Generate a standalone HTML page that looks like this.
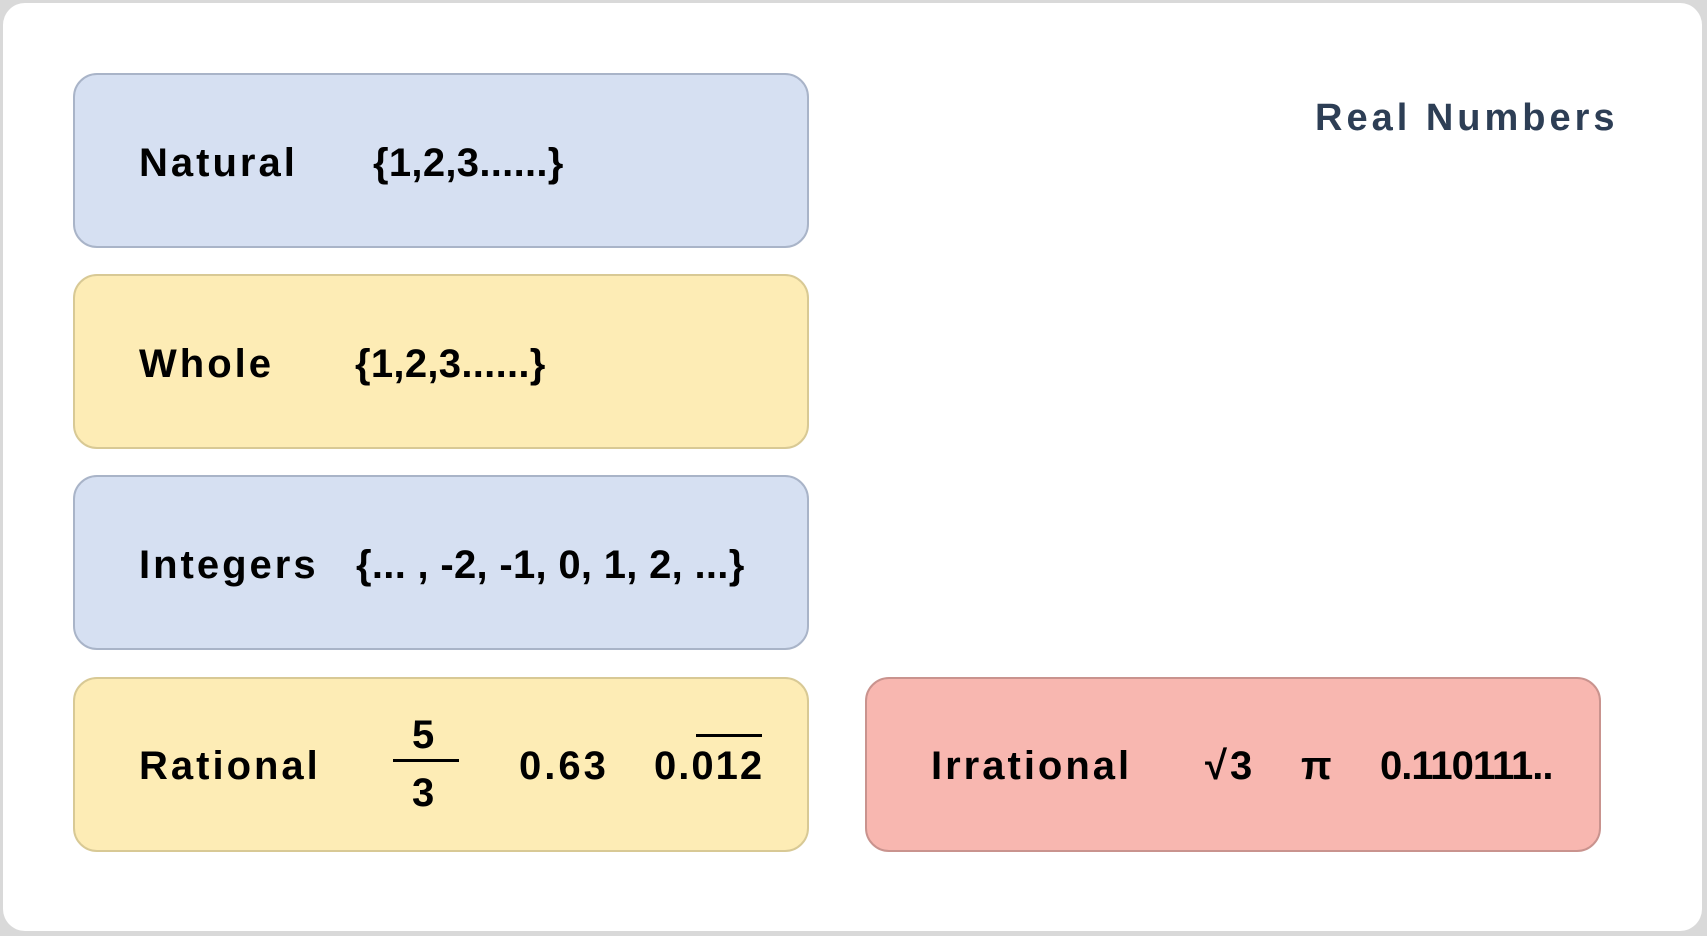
<!DOCTYPE html>
<html><head><meta charset="utf-8"><style>
html,body{margin:0;padding:0}
body{width:1707px;height:936px;background:#d9d9d9;position:relative;overflow:hidden;font-family:"Liberation Sans",sans-serif;font-weight:bold;color:#000}
#card{position:absolute;left:3px;top:3px;width:1699px;height:928px;background:#fff;border-radius:22px}
.box{position:absolute;border-radius:24px;box-sizing:border-box;border:2px solid}
.blue{background:#d6e0f2;border-color:#a9b4c8}
.yellow{background:#fdecb5;border-color:#d8c995}
.red{background:#f8b7b0;border-color:#c9938e}
.t{position:absolute;font-size:40px;letter-spacing:3px;line-height:1;transform:translateY(-50%);white-space:nowrap}
.s{letter-spacing:0.3px}
</style></head><body>
<div id="card"></div>
<div class="t" style="left:1315px;top:118px;color:#2d3e55;font-size:38px;letter-spacing:4px">Real Numbers</div>

<div class="box blue" style="left:73px;top:73px;width:736px;height:175px"></div>
<div class="t" style="left:139px;top:163px">Natural</div>
<div class="t s" style="left:373px;top:163px">{1,2,3......}</div>

<div class="box yellow" style="left:73px;top:274px;width:736px;height:175px"></div>
<div class="t" style="left:139px;top:364px">Whole</div>
<div class="t s" style="left:355px;top:364px">{1,2,3......}</div>

<div class="box blue" style="left:73px;top:475px;width:736px;height:175px"></div>
<div class="t" style="left:139px;top:565px">Integers</div>
<div class="t s" style="left:356px;top:565px">{... , -2, -1, 0, 1, 2, ...}</div>

<div class="box yellow" style="left:73px;top:677px;width:736px;height:175px"></div>
<div class="t" style="left:139px;top:766px">Rational</div>
<div class="t" style="left:412px;top:735px">5</div>
<div style="position:absolute;left:393px;top:759px;width:66px;height:3px;background:#000"></div>
<div class="t" style="left:412px;top:793px">3</div>
<div class="t" style="left:519px;top:766px">0.63</div>
<div class="t" style="left:654px;top:766px;letter-spacing:2px">0.012</div>
<div style="position:absolute;left:696px;top:734px;width:66px;height:3px;background:#000"></div>

<div class="box red" style="left:865px;top:677px;width:736px;height:175px"></div>
<div class="t" style="left:931px;top:766px">Irrational</div>
<div class="t" style="left:1205px;top:766px">√3</div>
<div class="t" style="left:1301px;top:766px">π</div>
<div class="t" style="left:1380px;top:766px;letter-spacing:-1px">0.110111..</div>
</body></html>
